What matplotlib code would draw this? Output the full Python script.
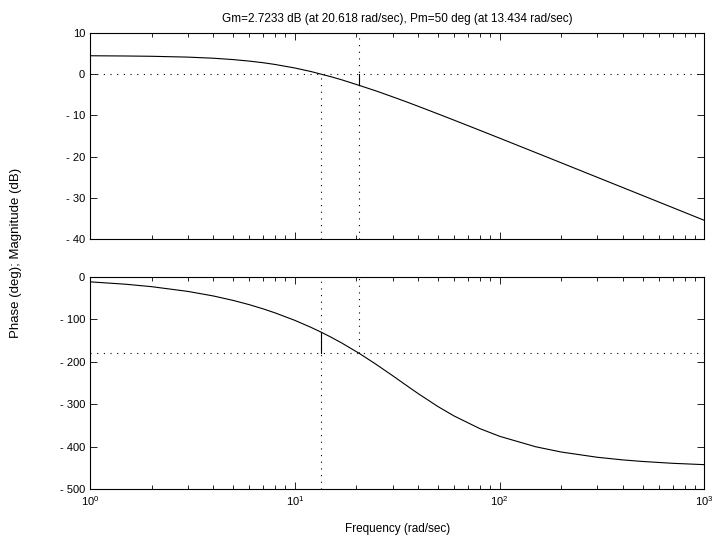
import matplotlib.pyplot as plt
import matplotlib.ticker as mticker
import numpy as np

plt.rcParams['font.family'] = ['Liberation Sans', 'DejaVu Sans']
plt.rcParams['font.size'] = 8

# frequency samples (rad/sec)
freq = [1, 1.5, 2, 3, 4, 5, 6, 7, 8, 10, 12, 13.434, 15, 17, 20.618, 25, 30,
        35, 40, 50, 60, 80, 100, 150, 200, 300, 400, 500, 700, 1000]
mag_db = [4.47, 4.41, 4.34, 4.14, 3.87, 3.54, 3.17, 2.78, 2.36, 1.50, 0.64, 0.0,
          -0.61, -1.39, -2.72, -4.09, -5.49, -6.7, -7.79, -9.64, -11.17, -13.62,
          -15.53, -19.03, -21.52, -25.04, -27.53, -29.47, -32.39, -35.49]
phase_deg = [-11.4, -17.1, -22.8, -33.9, -44.7, -55.2, -65.3, -75.1, -84.5,
             -102.2, -118.8, -130.0, -141.7, -156.0, -180.0, -206.3, -232.6,
             -255.4, -274.9, -305.6, -327.9, -357.5, -375.7, -400.4, -412.8,
             -425.2, -431.4, -435.1, -439.4, -442.6]

gm_db = 2.7233
gm_freq = 20.618
pm_deg = 50
pm_freq = 13.434

mag_ticks = [10, 0, -10, -20, -30, -40]
phase_ticks = [0, -100, -200, -300, -400, -500]


def tick_text(v):
    return '- %d' % abs(v) if v < 0 else '%d' % v


def style_axes(ax, yticks):
    ax.set_xscale('log')
    ax.set_xlim(1, 1000)
    ax.set_ylim(min(yticks), max(yticks))
    ax.yaxis.set_major_locator(mticker.FixedLocator(yticks))
    ax.yaxis.set_major_formatter(mticker.FixedFormatter([tick_text(v) for v in yticks]))
    ax.tick_params(which='both', direction='in', top=True, right=True, labelsize=8)
    ax.tick_params(which='major', length=5, width=0.6)
    ax.tick_params(which='minor', length=3, width=0.6)
    for s in ax.spines.values():
        s.set_linewidth(0.8)


fig = plt.figure(figsize=(7.17, 5.44), dpi=100)
ax1 = fig.add_axes([0.1255, 0.5607, 0.857, 0.3787])
ax2 = fig.add_axes([0.1255, 0.1011, 0.857, 0.3897])

dot = (0, (1, 5))

# magnitude
ax1.plot(freq, mag_db, color='black', lw=0.8)
ax1.axhline(0, color='black', lw=0.8, ls=dot)
ax1.plot([gm_freq, gm_freq], [-40, 10], color='black', lw=0.8, ls=dot)
ax1.plot([pm_freq, pm_freq], [-40, 0], color='black', lw=0.8, ls=dot)
ax1.plot([gm_freq, gm_freq], [0, -gm_db], color='black', lw=0.8)
style_axes(ax1, mag_ticks)
ax1.xaxis.set_major_formatter(mticker.NullFormatter())
ax1.set_title('Gm=2.7233 dB (at 20.618 rad/sec), Pm=50 deg (at 13.434 rad/sec)',
              fontsize=8.5, pad=8)

# phase
ax2.plot(freq, phase_deg, color='black', lw=0.8)
ax2.axhline(-180, color='black', lw=0.8, ls=dot)
ax2.plot([pm_freq, pm_freq], [-500, 0], color='black', lw=0.8, ls=dot)
ax2.plot([gm_freq, gm_freq], [-180, 0], color='black', lw=0.8, ls=dot)
ax2.plot([pm_freq, pm_freq], [-180, -180 + pm_deg], color='black', lw=0.8)
style_axes(ax2, phase_ticks)
ax2.set_xlabel('Frequency (rad/sec)', fontsize=8.5, labelpad=11)

fig.text(0.022, 0.535, 'Phase (deg); Magnitude (dB)', rotation=90,
         ha='center', va='center', fontsize=9.5)

plt.savefig('out.png', dpi=100)
